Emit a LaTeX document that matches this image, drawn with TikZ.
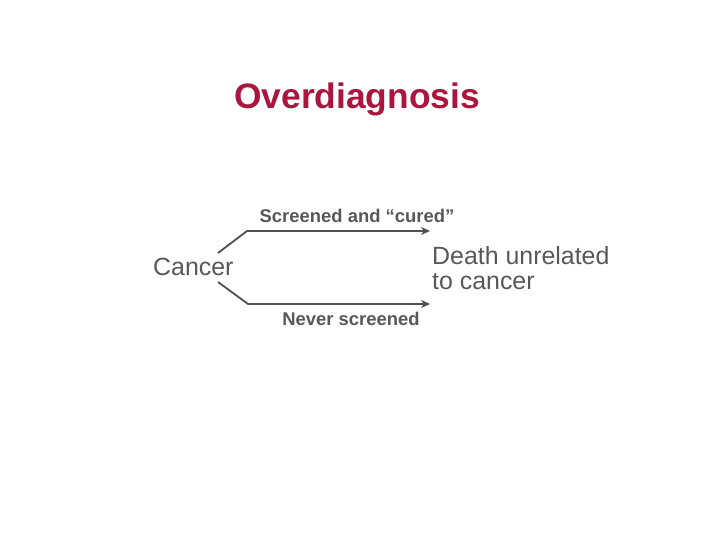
\documentclass[tikz,border=0pt]{standalone}
\usepackage{fontspec}
\setmainfont{Liberation Sans}
\usetikzlibrary{arrows.meta}
\definecolor{titlered}{RGB}{170,22,62}
\definecolor{textgray}{RGB}{88,88,88}
\definecolor{linegray}{RGB}{80,80,80}
\tikzset{
	branch/.style={draw=linegray, line width=1.8bp, -{Stealth[length=9bp,width=8bp]}},
	pathlabel/.style={text=textgray, font=\fontsize{18.5}{22}\selectfont\bfseries, inner sep=0pt},
	endlabel/.style={text=textgray, font=\fontsize{25}{25}\selectfont, inner sep=0pt}
}

\begin{document}
\begin{tikzpicture}[x=1bp,y=-1bp]
	\useasboundingbox[fill=white] (0,0) rectangle (720,540);
	\node[text=titlered, font=\fontsize{35.5}{40}\selectfont\bfseries, inner sep=0pt] (title) at (357,99) {Overdiagnosis};
	\node[endlabel, anchor=west] (cancer) at (153,267) {Cancer};
	\node[endlabel, anchor=west, align=left] (death) at (432,268) {Death unrelated\\to cancer};
	\coordinate (U0) at (218,253);
	\coordinate (U1) at (247,231);
	\coordinate (U2) at (430,231);
	\coordinate (L0) at (218,282);
	\coordinate (L1) at (248,304);
	\coordinate (L2) at (430,304);
	\draw[branch] (U0) -- (U1) -- (U2);
	\draw[branch] (L0) -- (L1) -- (L2);
	\node[pathlabel] (cured) at (357,216) {Screened and “cured”};
	\node[pathlabel] (never) at (351,319) {Never screened};
\end{tikzpicture}
\end{document}
